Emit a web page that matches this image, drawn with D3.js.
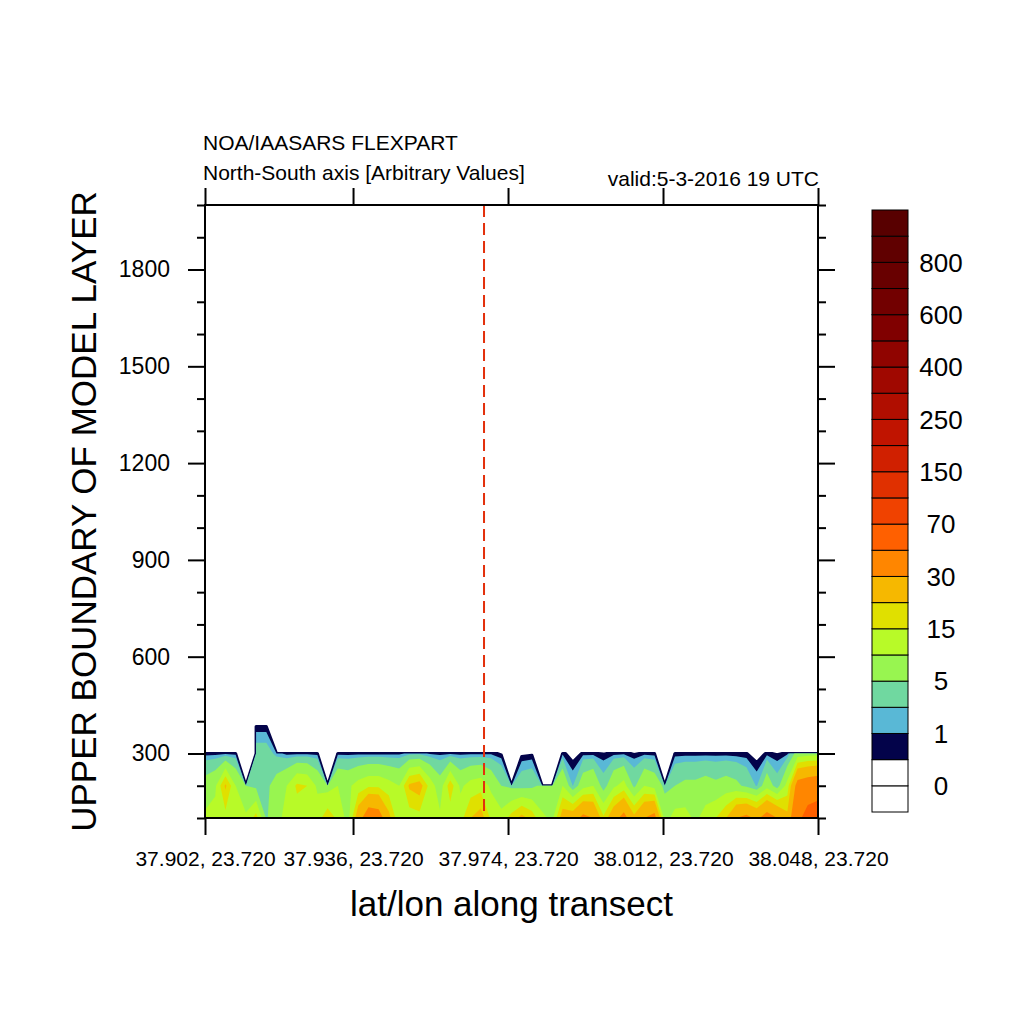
<!DOCTYPE html>
<html>
<head>
<meta charset="utf-8">
<script src="https://cdn.jsdelivr.net/npm/d3@7"></script>
<style>
  body { margin: 0; background: #fff; }
  svg text { font-family: "Liberation Sans", Arial, sans-serif; fill: #000; }
</style>
</head>
<body>
<svg width="1024" height="1024"></svg>
<script>
var svg = d3.select("svg");

// contour levels, and the fill colour below/between/above them
var levels = [0, 0.5, 1, 2, 5, 10, 15, 20, 30, 50, 70, 100, 150, 200, 250, 300, 400, 500, 600, 700, 800, 900];
var fillColors = ["#ffffff", "#ffffff", "#03034a", "#59b8d6", "#70d8a0", "#98f550", "#b8fa28", "#e0e000",
                  "#f6b800", "#ff8600", "#ff6000", "#f04200", "#e03000", "#d02000", "#c01400", "#b00e00",
                  "#a00800", "#900400", "#800000", "#720000", "#680000", "#600000", "#580000"];
var cbLabels = [0, 1, 5, 15, 30, 70, 150, 250, 400, 600, 800];

// model layer heights (rows of the transect) and concentrations per transect point
var heights = [100, 200, 300, 400];
var conc100 = [11, 12, 13, 12, 11, 17, 4.5, 8, 12, 12, 11, 13, 18, 14, 8, 25, 38, 36, 22, 11,
               12, 13, 12, 11, 12, 13, 20, 23, 14, 12, 17, 22, 18, 11, 9, 24, 25, 33, 30, 16,
               26, 34, 22, 30, 34, 8, 12, 12, 9, 12, 15, 20, 30, 33, 28, 35, 30, 22, 45, 58, 62];
var conc200 = [7, 9, 21, 10, 5, 4, 4, 7, 10, 16, 15, 9, 8, 10, 9, 12, 14, 14, 12, 10,
               21, 23, 13, 7, 18, 9, 12, 13, 9, 5, 4, 3.5, 4, 6, 6, 10, 1.9, 8, 10, 3,
               9, 12, 4, 10, 8, 4, 5, 6, 6, 7, 6, 7, 6, 4, 1.8, 8, 3, 12, 35, 38, 40];
var conc300 = [0.6, 0.6, 0.6, 0.6, null, 3, 3, 1.5, 0.6, 0.6, 0.6, 0.6, null, 0.6, 0.6, 0.6, 0.6, 0.6, 0.6, 0.7,
               1.3, 1.5, 0.8, 0.7, 0.7, 0.7, 0.7, 0.7, 0.8, 0.3, null, 0.2, 0.3, null, null, 0.7, 0, 0.6, 0.55, 0.45,
               0.6, 0.7, 0.4, 0.6, 0.55, null, 0.6, 0.6, 0.6, 0.6, 0.6, 0.6, 0.55, 0.52, 0, 0.6, 0.4, 0.6, 7, 8, 8];
var conc400 = [null, null, null, null, null, 0, 0, null, null, null, null, null, null, null, null, null, null, null, null, null,
               null, null, null, null, null, null, null, null, null, null, null, null, null, null, null, null, null, null, null, null,
               null, null, null, null, null, null, null, null, null, null, null, null, null, null, null, null, null, null, null, null, null];

// axis ticks (x ticks are positions along the transect, in point index)
var xTickIdx = [0, 14.49, 29.66, 44.83, 60];
var xTickLabels = ["37.902, 23.720", "37.936, 23.720", "37.974, 23.720", "38.012, 23.720", "38.048, 23.720"];
var yMajor = [300, 600, 900, 1200, 1500, 1800];
var yMinor = [100, 200, 400, 500, 700, 800, 1000, 1100, 1300, 1400, 1600, 1700, 1900, 2000];
var markerIdx = 27.31;

var plotL = 205, plotR = 818, plotT = 205, plotB = 818;
var nx = conc100.length;
var x = d3.scaleLinear().domain([0, nx - 1]).range([plotL, plotR]);
var y = d3.scaleLinear().domain([100, 2000]).range([plotB, plotT]);
var rowHeight = d3.scaleLinear().domain(d3.range(heights.length)).range(heights);

// grid for d3.contours, missing values pushed far below every level
var rows = [conc100, conc200, conc300, conc400];
var grid = [];
rows.forEach(function(r) {
    r.forEach(function(v) { grid.push(v == null ? -1e4 : v); });
});
var bands = d3.contours().size([nx, rows.length]).thresholds(levels)(grid);

var toPixels = d3.geoTransform({
    point: function(px, py) {
        this.stream.point(x(px - 0.5), y(rowHeight(py - 0.5)));
    }
});
var path = d3.geoPath(toPixels);

svg.append("clipPath").attr("id", "plot-clip")
   .append("rect")
   .attr("x", plotL).attr("y", plotT)
   .attr("width", plotR - plotL).attr("height", plotB - plotT);

// lowest coloured band gets a navy edge, like the outline of the plume
svg.append("g")
   .attr("clip-path", "url(#plot-clip)")
   .selectAll("path")
   .data(bands)
   .join("path")
   .attr("d", path)
   .attr("fill", function(d, i) { return fillColors[i + 1]; })
   .attr("stroke", function(d) { return d.value === 0.5 ? fillColors[2] : "none"; })
   .attr("stroke-width", 3)
   .attr("stroke-linejoin", "round");

// release position marker
svg.append("line")
   .attr("x1", x(markerIdx)).attr("x2", x(markerIdx))
   .attr("y1", plotT).attr("y2", plotB)
   .attr("stroke", "#e3300c")
   .attr("stroke-width", 2)
   .attr("stroke-dasharray", "12,6");

function styleAxis(g) {
    g.select(".domain").remove();
    g.selectAll("line").attr("stroke", "#000").attr("stroke-width", 2);
    g.attr("font-family", null).attr("font-size", null);
}

// left / right axes
svg.append("g").attr("transform", "translate(" + plotL + ",0)")
   .call(d3.axisLeft(y).tickValues(yMinor).tickSize(8).tickFormat(""))
   .call(styleAxis);
svg.append("g").attr("transform", "translate(" + plotL + ",0)")
   .call(d3.axisLeft(y).tickValues(yMajor).tickSize(17).tickPadding(18).tickFormat(d3.format("d")))
   .call(styleAxis)
   .selectAll("text").style("font-size", "23px");
svg.append("g").attr("transform", "translate(" + plotR + ",0)")
   .call(d3.axisRight(y).tickValues(yMinor).tickSize(8).tickFormat(""))
   .call(styleAxis);
svg.append("g").attr("transform", "translate(" + plotR + ",0)")
   .call(d3.axisRight(y).tickValues(yMajor).tickSize(17).tickFormat(""))
   .call(styleAxis);

// top / bottom axes
svg.append("g").attr("transform", "translate(0," + plotT + ")")
   .call(d3.axisTop(x).tickValues(xTickIdx).tickSize(17).tickFormat(""))
   .call(styleAxis);
svg.append("g").attr("transform", "translate(0," + plotB + ")")
   .call(d3.axisBottom(x).tickValues(xTickIdx).tickSize(17).tickPadding(16)
         .tickFormat(function(d, i) { return xTickLabels[i]; }))
   .call(styleAxis)
   .selectAll("text").style("font-size", "21px");

svg.append("rect")
   .attr("x", plotL).attr("y", plotT)
   .attr("width", plotR - plotL).attr("height", plotB - plotT)
   .attr("fill", "none").attr("stroke", "#000").attr("stroke-width", 2);

// titles
svg.append("text").attr("x", 203).attr("y", 150)
   .style("font-size", "21px").text("NOA/IAASARS FLEXPART");
svg.append("text").attr("x", 203).attr("y", 180)
   .style("font-size", "21px").text("North-South axis [Arbitrary Values]");
svg.append("text").attr("x", 819).attr("y", 186).attr("text-anchor", "end")
   .style("font-size", "21px").text("valid:5-3-2016 19 UTC");
svg.append("text").attr("x", (plotL + plotR) / 2).attr("y", 916).attr("text-anchor", "middle")
   .style("font-size", "35px").text("lat/lon along transect");
svg.append("text").attr("transform", "translate(96," + (plotT + plotB) / 2 + ") rotate(-90)")
   .attr("text-anchor", "middle")
   .style("font-size", "35px").text("UPPER BOUNDARY OF MODEL LAYER");

// colour bar
var cb = d3.scaleLinear().domain([0, fillColors.length]).range([812, 210]);
svg.append("g").selectAll("rect")
   .data(fillColors)
   .join("rect")
   .attr("x", 872).attr("width", 36)
   .attr("y", function(d, i) { return cb(i + 1); })
   .attr("height", function(d, i) { return cb(i) - cb(i + 1); })
   .attr("fill", function(d) { return d; })
   .attr("stroke", "#000").attr("stroke-width", 1);
svg.append("g").selectAll("text")
   .data(cbLabels)
   .join("text")
   .attr("x", 941)
   .attr("y", function(d) { return cb(levels.indexOf(d) + 1); })
   .attr("dy", "0.36em")
   .attr("text-anchor", "middle")
   .style("font-size", "26px")
   .text(function(d) { return d; });
</script>
</body>
</html>
